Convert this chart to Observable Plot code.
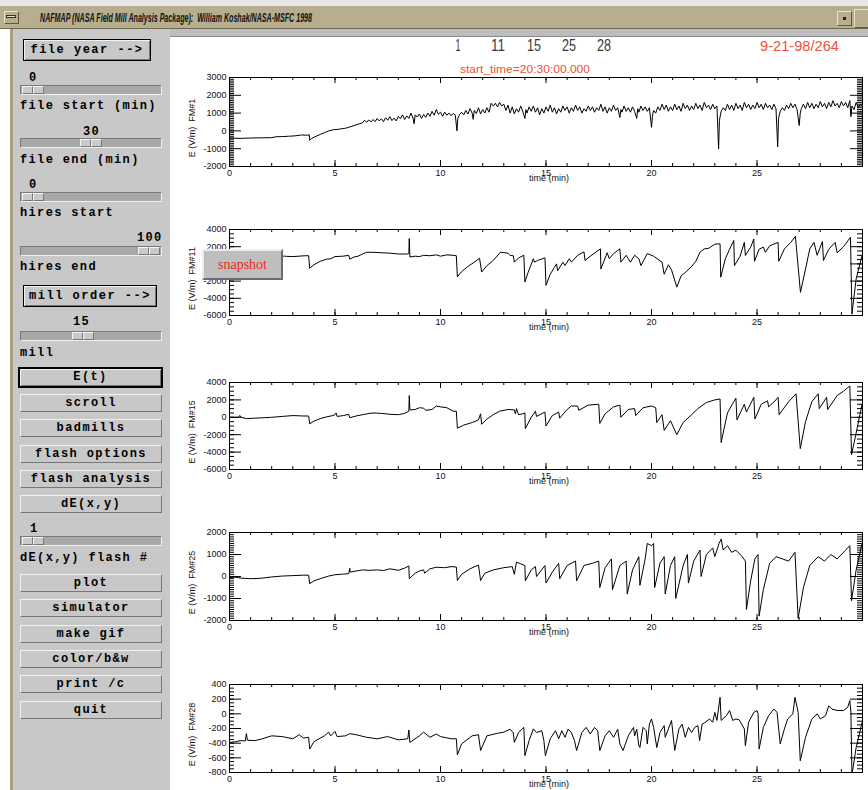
<!DOCTYPE html>
<html><head><meta charset="utf-8">
<script src="https://cdn.jsdelivr.net/npm/d3@7"></script>
<script src="https://cdn.jsdelivr.net/npm/@observablehq/plot@0.6"></script>
<style>
html,body{margin:0;padding:0;background:#fff;}
#root{position:relative;width:868px;height:790px;overflow:hidden;background:#fff;}
.abs{position:absolute;}
.mono{position:absolute;font-family:"Liberation Mono","DejaVu Sans Mono",monospace;font-weight:bold;font-size:12px;letter-spacing:1.35px;color:#000;white-space:pre;line-height:14px;}
.btn{position:absolute;left:20px;width:140px;height:16px;background:#c8c8c8;border-top:1px solid #f2f2f2;border-left:1px solid #f2f2f2;border-right:1px solid #767676;border-bottom:1px solid #767676;text-align:center;line-height:16px;font-family:"Liberation Mono","DejaVu Sans Mono",monospace;font-weight:bold;font-size:12px;letter-spacing:1.4px;white-space:pre;}
.slider{position:absolute;left:20px;width:140px;height:8px;background:#a8a8a8;border-top:1px solid #7a7a7a;border-left:1px solid #7a7a7a;border-bottom:1px solid #f0f0f0;border-right:1px solid #f0f0f0;}
.thumb{position:absolute;top:0;width:9px;height:6px;background:#cacaca;border-top:1px solid #f6f6f6;border-left:1px solid #f6f6f6;border-right:1px solid #777;border-bottom:1px solid #777;}
.bigbtn{position:absolute;background:#c8c8c8;border:1px solid #000;box-shadow:inset 1px 1px 0 #f2f2f2, inset -1px -1px 0 #777;text-align:center;font-family:"Liberation Mono","DejaVu Sans Mono",monospace;font-weight:bold;font-size:12px;letter-spacing:1.5px;white-space:pre;}
</style>
</head><body>
<div id="root">
  <!-- window chrome -->
  <div class="abs" style="left:0;top:0;width:868px;height:6px;background:#e6e6e6;border-bottom:1px solid #9a9a9a;"></div>
  <div class="abs" style="left:0;top:6px;width:868px;height:22px;background:#b6ae8f;border-bottom:1px solid #6e6850;"></div>
  <div class="abs" style="left:4px;top:11px;width:13px;height:11px;background:#b6ae8f;border-top:1px solid #e8e2cc;border-left:1px solid #e8e2cc;border-right:1px solid #5e5840;border-bottom:1px solid #5e5840;"></div>
  <div class="abs" style="left:6px;top:15px;width:10px;height:3px;background:#e8e2cc;border:1px solid #333;box-sizing:border-box;"></div>
  <div class="abs" style="left:837px;top:11px;width:13px;height:13px;background:#b6ae8f;border-top:1px solid #e8e2cc;border-left:1px solid #e8e2cc;border-right:1px solid #5e5840;border-bottom:1px solid #5e5840;"></div>
  <div class="abs" style="left:843px;top:17px;width:3px;height:3px;background:#222;"></div>
  <div class="abs" style="left:854px;top:9px;width:16px;height:17px;background:#b6ae8f;border-top:1px solid #e8e2cc;border-left:1px solid #e8e2cc;border-right:1px solid #5e5840;border-bottom:1px solid #5e5840;"></div>
  <div class="abs" style="left:13px;top:29px;width:855px;height:7px;background:#bdbdbd;border-bottom:1px solid #8a8a8a;"></div>
  <div class="abs" style="left:10px;top:29px;width:3px;height:761px;background:#a69f84;"></div>
  <div class="abs" style="left:13px;top:29px;width:157px;height:761px;background:#c8c8c8;"></div>

  <!-- left control panel -->
  <div class="bigbtn" style="left:23px;top:39px;width:126px;height:20px;line-height:20px;">file year --&gt;</div>
  <div class="mono" style="left:29px;top:71px;">0</div>
  <div class="slider" style="top:85px;"><div class="thumb" style="left:1px;"></div><div class="thumb" style="left:12px;"></div></div>
  <div class="mono" style="left:20px;top:99px;">file start (min)</div>
  <div class="mono" style="left:83px;top:125px;">30</div>
  <div class="slider" style="top:138px;"><div class="thumb" style="left:59px;"></div><div class="thumb" style="left:70px;"></div></div>
  <div class="mono" style="left:20px;top:153px;">file end (min)</div>
  <div class="mono" style="left:29px;top:178px;">0</div>
  <div class="slider" style="top:192px;"><div class="thumb" style="left:1px;"></div><div class="thumb" style="left:12px;"></div></div>
  <div class="mono" style="left:20px;top:206px;">hires start</div>
  <div class="mono" style="left:137px;top:231px;">100</div>
  <div class="slider" style="top:246px;"><div class="thumb" style="left:117px;"></div><div class="thumb" style="left:128px;"></div></div>
  <div class="mono" style="left:20px;top:260px;">hires end</div>
  <div class="bigbtn" style="left:23px;top:285px;width:132px;height:20px;line-height:20px;">mill order --&gt;</div>
  <div class="mono" style="left:73px;top:315px;">15</div>
  <div class="slider" style="top:331px;"><div class="thumb" style="left:51px;"></div><div class="thumb" style="left:62px;"></div></div>
  <div class="mono" style="left:20px;top:346px;">mill</div>
  <div class="abs" style="left:18px;top:367px;width:141px;height:17px;border:2px solid #000;background:#c8c8c8;box-shadow:inset 1px 1px 0 #f2f2f2, inset -1px -1px 0 #777;text-align:center;line-height:17px;font-family:'Liberation Mono',monospace;font-weight:bold;font-size:12px;letter-spacing:1.4px;">E(t)</div>
  <div class="btn" style="top:394px;">scroll</div>
  <div class="btn" style="top:419px;">badmills</div>
  <div class="btn" style="top:445px;">flash options</div>
  <div class="btn" style="top:470px;">flash analysis</div>
  <div class="btn" style="top:495px;">dE(x,y)</div>
  <div class="mono" style="left:30px;top:522px;">1</div>
  <div class="slider" style="top:536px;"><div class="thumb" style="left:1px;"></div><div class="thumb" style="left:12px;"></div></div>
  <div class="mono" style="left:20px;top:551px;">dE(x,y) flash #</div>
  <div class="btn" style="top:574px;">plot</div>
  <div class="btn" style="top:599px;">simulator</div>
  <div class="btn" style="top:625px;">make gif</div>
  <div class="btn" style="top:650px;">color/b&amp;w</div>
  <div class="btn" style="top:675px;">print /c</div>
  <div class="btn" style="top:701px;">quit</div>

  <!-- header texts -->
  <svg class="abs" style="left:0;top:0;" width="868" height="80">
    <text x="40" y="22" textLength="272" lengthAdjust="spacingAndGlyphs" font-family="Liberation Sans, Arial, sans-serif" font-style="italic" font-weight="bold" font-size="12" fill="#111" xml:space="preserve">NAFMAP (NASA Field Mill Analysis Package):  William Koshak/NASA-MSFC 1998</text>
    <g font-family="Liberation Sans, Arial, sans-serif" font-size="16" fill="#3a3a3a">
      <text x="458" y="51" text-anchor="middle" textLength="5" lengthAdjust="spacingAndGlyphs">1</text>
      <text x="498" y="51" text-anchor="middle" textLength="14" lengthAdjust="spacingAndGlyphs">11</text>
      <text x="534" y="51" text-anchor="middle" textLength="14" lengthAdjust="spacingAndGlyphs">15</text>
      <text x="569" y="51" text-anchor="middle" textLength="14" lengthAdjust="spacingAndGlyphs">25</text>
      <text x="604" y="51" text-anchor="middle" textLength="14" lengthAdjust="spacingAndGlyphs">28</text>
    </g>
    <text x="760" y="51" textLength="79" lengthAdjust="spacingAndGlyphs" font-family="Liberation Sans, Arial, sans-serif" font-size="15" fill="#f0503c">9-21-98/264</text>
    <text x="460" y="73" textLength="130" lengthAdjust="spacingAndGlyphs" font-family="Liberation Sans, Arial, sans-serif" font-size="10.5" fill="#f0503c">start_time=20:30:00.000</text>
  </svg>
  <div id="charts"></div>
  <div class="abs" style="left:202px;top:249px;width:77px;height:27px;background:#bebebe;border-top:2px solid #ececec;border-left:2px solid #ececec;border-right:2px solid #6c6c6c;border-bottom:2px solid #6c6c6c;text-align:center;line-height:27px;font-family:'Liberation Serif','DejaVu Serif',serif;font-size:14px;color:#f02a20;z-index:5;">snapshot</div>
</div>
<script>
// ---------- data: [time (min), E (V/m)] ----------
const fm1 = [[0,-400],[0.5,-420],[1,-400],[1.5,-390],[2,-380],[2.2,-330],[2.5,-320],[2.8,-300],[3.1,-280],[3.4,-230],[3.7,-240],[3.78,-220],[3.8,-520],[3.9,-420],[4.1,-300],[4.3,-200],[4.5,-100],[4.7,0],[4.9,60],[5.1,80],[5.3,120],[5.5,150],[5.7,220],[5.9,300],[6.1,380],[6.3,450],
[6.4,600],[6.5,480],[6.6,620],[6.7,500],[6.8,640],[6.9,520],[7.0,700],[7.1,560],[7.2,680],[7.3,520],[7.4,740],[7.5,600],[7.6,800],[7.7,580],[7.8,720],[7.9,560],[8.0,820],[8.1,680],[8.2,900],[8.3,640],[8.4,840],[8.5,700],[8.6,1000],[8.7,720],[8.75,400],[8.8,900],[8.9,780],[9.0,950],[9.1,700],[9.2,920],[9.3,760],[9.4,1000],[9.5,820],[9.6,1100],[9.7,880],[9.8,1200],[9.9,940],[10.0,1050],[10.1,820],[10.2,1050],[10.3,880],[10.4,1000],[10.5,850],[10.6,980],[10.7,900],[10.78,0],[10.82,700],[10.9,920],
[11.0,1050],[11.1,900],[11.2,1150],[11.3,950],[11.4,1250],[11.5,1000],[11.55,650],[11.6,1150],[11.7,980],[11.8,1300],[11.9,950],[12.0,1200],[12.1,1000],[12.2,1300],[12.3,1050],[12.4,1550],[12.5,1400],[12.6,1550],[12.7,1350],[12.8,1600],[12.9,1400],[13.0,1500],[13.1,1150],[13.2,1450],[13.3,1000],[13.4,1350],[13.5,950],[13.6,1250],[13.7,1050],[13.8,1400],[13.9,1100],[14.0,700],[14.05,1200],[14.1,1000],[14.2,1350],[14.3,1100],[14.4,1400],[14.5,1050],[14.6,1300],[14.7,900],[14.8,1250],[14.9,1000],
[15.0,1350],[15.1,1100],[15.2,1450],[15.3,1050],[15.4,1300],[15.5,950],[15.6,1250],[15.7,1050],[15.8,1400],[15.9,1150],[16.0,1350],[16.1,1000],[16.2,1300],[16.3,1100],[16.4,1450],[16.5,1150],[16.6,1350],[16.7,1000],[16.8,1250],[16.9,1100],[17.0,1400],[17.1,1150],[17.2,1350],[17.3,1050],[17.4,1300],[17.5,1150],[17.6,1500],[17.7,1100],[17.8,1350],[17.9,1000],[18.0,1300],[18.1,1100],[18.2,1450],[18.3,1150],[18.4,1300],[18.5,750],[18.55,1200],[18.6,1050],[18.7,1400],[18.8,1100],[18.9,1300],[19.0,1050],[19.1,1350],[19.2,1100],[19.3,700],[19.35,1250],[19.4,1050],[19.5,1400],[19.6,1150],[19.7,1350],[19.8,1100],[19.9,1300],
[20.0,200],[20.05,900],[20.1,1150],[20.2,1000],[20.3,1350],[20.4,1150],[20.5,1500],[20.6,1200],[20.7,1450],[20.8,1100],[20.9,1350],[21.0,1150],[21.1,1500],[21.2,1200],[21.3,1400],[21.4,1100],[21.5,1550],[21.6,1250],[21.7,1450],[21.8,1150],[21.9,1400],[22.0,1200],[22.1,1550],[22.2,1250],[22.3,1450],[22.4,1150],[22.5,1600],[22.6,1300],[22.7,1450],[22.8,1200],[22.9,1500],[23.0,1250],[23.1,1400],[23.18,-1000],[23.22,600],[23.3,1100],[23.4,1300],[23.5,1150],[23.6,1500],[23.7,1200],[23.8,1450],[23.9,1150],[24.0,1550],[24.1,1250],[24.2,1450],[24.3,1150],[24.4,1600],[24.5,1300],[24.6,1500],[24.7,1200],[24.8,1450],[24.9,1250],
[25.0,1600],[25.1,1300],[25.2,1500],[25.3,1200],[25.4,1550],[25.5,1300],[25.6,1450],[25.7,1200],[25.8,1500],[25.9,1250],[25.98,-900],[26.02,700],[26.1,1100],[26.2,1300],[26.3,1150],[26.4,1450],[26.5,1250],[26.6,1550],[26.7,1300],[26.8,1500],[26.9,1200],[27.0,300],[27.05,1000],[27.1,1250],[27.2,1500],[27.3,1250],[27.4,1600],[27.5,1300],[27.6,1550],[27.7,1250],[27.8,1500],[27.9,1300],[28.0,1650],[28.1,1350],[28.2,1550],[28.3,1250],[28.4,1600],[28.5,1350],[28.6,1700],[28.7,1400],[28.8,1550],[28.9,1300],[29.0,1650],[29.1,1400],[29.2,1600],[29.3,1300],[29.4,1700],[29.45,800],[29.5,1400],[29.6,1200],[29.7,1600],[29.8,1300],[29.9,1500],[30,1400]];

const fm11 = [[0,800],[1,850],[2,900],[2.6,900],[2.7,880],[3.0,850],[3.3,900],[3.6,950],[3.75,950],[3.8,-500],[4.0,-100],[4.3,300],[4.6,550],[4.8,600],[5.0,850],[5.4,900],[5.65,1000],[5.7,550],[5.9,800],[6.1,900],[6.3,1150],[6.5,1350],[6.8,1350],[7.2,1300],[7.6,1250],[8.0,1150],[8.4,1150],[8.5,1200],[8.52,2950],[8.55,800],[8.8,900],[9.0,850],[9.2,1000],[9.5,950],[9.8,1050],[10.0,900],[10.3,1050],[10.6,1000],[10.75,950],[10.8,-1500],[11.0,-900],[11.3,-300],[11.6,200],[11.85,650],[11.95,-950],[12.2,-200],[12.5,400],[12.84,1360],[13.2,1250],[13.3,980],[13.45,950],[13.5,200],[13.7,700],[13.95,1000],[14.0,-2100],[14.15,-1000],[14.4,600],[14.45,200],[14.6,400],[14.95,700],[15.0,-2500],[15.2,-1200],[15.4,-400],[15.5,0],[15.55,-800],[15.8,200],[15.9,-200],[16.1,600],[16.2,200],[16.5,1000],[16.8,1400],[16.85,400],[17.1,900],[17.58,1750],[17.6,-600],[17.9,1300],[18.0,600],[18.2,1200],[18.5,1750],[18.55,200],[18.8,1000],[19.0,200],[19.2,1000],[19.4,600],[19.5,-200],[19.8,1200],[20.1,900],[20.5,200],[20.6,-1200],[20.8,-100],[20.95,-700],[21.2,-2700],[21.4,-1400],[21.6,-1000],[21.9,-300],[22.1,300],[22.3,1360],[22.5,1750],[22.7,1800],[23.0,2300],[23.25,2330],[23.28,-1550],[23.5,600],[23.7,1700],[23.9,2720],[23.93,-200],[24.2,900],[24.4,2500],[24.45,980],[24.7,1950],[24.85,2900],[24.88,300],[25.1,1700],[25.3,1950],[25.4,1350],[25.6,2100],[25.8,2300],[26.0,2500],[26.03,300],[26.3,1750],[26.6,2500],[26.82,3200],[27.06,-3300],[27.3,-600],[27.5,1750],[27.7,2500],[27.85,1000],[28.1,2600],[28.15,400],[28.4,1700],[28.7,2500],[28.8,1300],[29.1,2000],[29.43,3100],[29.5,-5850],[29.7,-1740],[29.98,1000]];

const fm15 = [[0,0],[0.4,0],[0.5,200],[0.55,0],[0.8,-150],[1.2,-100],[2,0],[2.5,100],[3,200],[3.5,150],[3.75,150],[3.8,-750],[4.0,-450],[4.3,-150],[4.6,50],[4.9,200],[5.0,300],[5.05,500],[5.1,100],[5.4,200],[5.65,350],[5.7,-50],[6.0,150],[6.4,350],[6.8,500],[7.2,450],[7.6,350],[8.0,300],[8.3,450],[8.5,700],[8.52,2500],[8.55,850],[8.8,900],[9.0,1100],[9.2,1050],[9.3,800],[9.6,900],[9.8,1300],[10.0,1200],[10.3,1100],[10.6,700],[10.75,700],[10.8,-1250],[11.1,-900],[11.5,-600],[11.8,-300],[11.9,400],[11.95,-800],[12.2,-200],[12.5,300],[12.8,700],[13.2,900],[13.5,850],[13.55,400],[13.6,1000],[13.7,300],[13.9,400],[14.0,500],[14.02,-1300],[14.3,0],[14.5,700],[14.55,100],[14.95,600],[15.0,-1000],[15.3,200],[15.6,600],[15.65,-100],[16.0,900],[16.2,1300],[16.5,1300],[16.55,800],[17.0,1400],[17.5,1500],[17.55,-700],[17.8,400],[18.2,1200],[18.5,1400],[18.55,0],[18.9,900],[19.2,1000],[19.25,200],[19.6,1100],[20.0,1300],[20.2,1100],[20.25,-600],[20.5,300],[20.6,-1500],[20.9,-400],[21.2,-2000],[21.5,-600],[21.9,300],[22.2,1000],[22.6,1700],[23.0,2000],[23.25,2100],[23.3,-2900],[23.6,500],[23.9,1800],[24.0,2200],[24.05,-300],[24.4,1500],[24.5,600],[24.85,2300],[24.9,-200],[25.2,1500],[25.5,1900],[25.55,1200],[25.9,2000],[26.0,2300],[26.05,300],[26.5,1800],[26.85,2700],[27.05,-3600],[27.3,-500],[27.6,1800],[27.9,2700],[27.95,1000],[28.3,2300],[28.35,900],[28.8,2500],[29.1,3000],[29.4,3600],[29.48,-4300],[29.7,-1800],[29.98,1500]];

const fm25 = [[0,-50],[0.3,-30],[0.5,-70],[1,-100],[1.5,-80],[2,-20],[2.5,20],[3,40],[3.5,60],[3.75,60],[3.8,-330],[4.0,-200],[4.3,-100],[4.7,20],[5.0,80],[5.4,110],[5.65,130],[5.7,370],[5.72,200],[6.0,250],[6.3,300],[6.6,280],[7.0,300],[7.3,270],[7.6,350],[8.0,280],[8.3,380],[8.5,480],[8.52,-100],[8.8,150],[9.0,250],[9.2,300],[9.25,150],[9.5,350],[9.8,420],[10.2,400],[10.5,450],[10.75,430],[10.8,-180],[11.0,100],[11.4,350],[11.8,520],[11.9,-180],[12.1,150],[12.5,300],[13.0,400],[13.4,450],[13.5,100],[13.6,650],[13.8,580],[14.0,500],[14.02,-200],[14.3,300],[14.5,450],[14.55,0],[14.95,500],[15.0,-300],[15.3,200],[15.6,600],[15.65,-100],[16.0,500],[16.4,700],[16.45,-200],[16.8,500],[17.2,600],[17.5,700],[17.55,-500],[17.8,400],[18.1,800],[18.15,-600],[18.5,500],[18.8,700],[18.85,-800],[19.1,300],[19.4,900],[19.45,-400],[19.7,800],[19.8,1500],[20.0,1400],[20.1,1500],[20.15,-500],[20.4,600],[20.6,900],[20.65,-800],[20.9,500],[21.1,900],[21.15,-1000],[21.5,500],[21.7,1000],[21.75,-300],[22.0,700],[22.3,1200],[22.35,0],[22.6,1000],[22.9,1300],[23.0,900],[23.2,1500],[23.3,1700],[23.4,1200],[23.6,1400],[23.8,1100],[24.0,1200],[24.3,900],[24.45,700],[24.5,-1500],[24.7,-200],[24.9,800],[25.05,1000],[25.1,-1800],[25.3,-600],[25.6,600],[25.9,900],[26.2,800],[26.5,700],[26.8,1100],[26.95,-1900],[27.2,-500],[27.5,500],[27.9,900],[28.2,700],[28.5,1000],[28.8,800],[29.2,1200],[29.4,1400],[29.48,-1100],[29.7,300],[29.98,1500]];

const fm28 = [[0,-390],[0.3,-380],[0.5,-365],[0.75,-370],[0.8,-270],[0.85,-360],[1.2,-365],[1.5,-345],[2,-300],[2.5,-310],[3,-340],[3.3,-285],[3.5,-330],[3.75,-320],[3.8,-480],[4.0,-380],[4.5,-300],[4.7,-250],[4.8,-300],[5.0,-240],[5.1,-310],[5.5,-300],[5.7,-270],[6.0,-285],[6.5,-320],[7.0,-340],[7.5,-310],[8.0,-355],[8.45,-340],[8.5,-220],[8.55,-390],[9.0,-300],[9.2,-250],[9.5,-320],[9.8,-275],[10.0,-310],[10.5,-340],[10.75,-340],[10.8,-560],[11.0,-410],[11.5,-300],[11.8,-285],[11.9,-500],[12.2,-300],[12.7,-265],[13.0,-250],[13.3,-210],[13.45,-260],[13.5,-390],[13.7,-255],[13.95,-185],[14.0,-570],[14.2,-365],[14.4,-205],[14.55,-255],[14.8,-230],[14.9,-365],[14.97,-570],[15.2,-340],[15.45,-230],[15.6,-340],[15.75,-230],[15.9,-320],[16.05,-210],[16.2,-255],[16.35,-365],[16.45,-500],[16.7,-255],[16.9,-185],[17.1,-275],[17.3,-185],[17.45,-230],[17.55,-500],[17.8,-300],[18.0,-230],[18.2,-320],[18.4,-210],[18.5,-410],[18.65,-500],[18.9,-300],[19.15,-185],[19.2,-300],[19.3,-210],[19.4,-435],[19.45,-460],[19.6,-185],[19.75,-230],[19.8,-410],[19.9,-140],[20.0,-70],[20.1,-185],[20.15,-275],[20.25,-460],[20.4,-255],[20.6,-160],[20.65,-320],[20.8,-205],[20.95,-90],[21.1,-500],[21.3,-205],[21.45,-140],[21.6,-320],[21.75,-185],[21.9,-255],[22.05,-185],[22.2,-160],[22.28,-365],[22.4,-140],[22.55,-115],[22.75,-70],[22.9,-115],[23.0,20],[23.1,-90],[23.25,225],[23.3,-90],[23.55,-25],[23.7,45],[23.85,-90],[24.0,-70],[24.15,-80],[24.4,-205],[24.45,-435],[24.6,-115],[24.85,20],[25.0,45],[25.05,0],[25.1,-480],[25.3,-185],[25.55,-25],[25.8,65],[25.95,20],[26.1,-410],[26.3,-205],[26.45,-70],[26.7,0],[26.8,225],[26.95,20],[27.05,-640],[27.3,-320],[27.6,-70],[27.85,0],[28.0,-70],[28.25,-25],[28.4,110],[28.55,65],[28.8,45],[29.1,45],[29.3,90],[29.4,180],[29.45,20],[29.5,-830],[29.7,-460],[29.98,-115]];

// axis tick labels
const xLabels = [0, 5, 10, 15, 20, 25];
const fm1Ticks = [-2000, -1000, 0, 1000, 2000, 3000];
const fm11Ticks = [-6000, -4000, -2000, 0, 2000, 4000];
const fm15Ticks = [-6000, -4000, -2000, 0, 2000, 4000];
const fm25Ticks = [-2000, -1000, 0, 1000, 2000];
const fm28Ticks = [-800, -600, -400, -200, 0, 200, 400];

const panels = [
  {data: fm1, name: "FM#1", ticks: fm1Ticks, minorStep: 100, top: 77, frameH: 89},
  {data: fm11, name: "FM#11", ticks: fm11Ticks, minorStep: 500, top: 229, frameH: 86},
  {data: fm15, name: "FM#15", ticks: fm15Ticks, minorStep: 500, top: 382, frameH: 87},
  {data: fm25, name: "FM#25", ticks: fm25Ticks, minorStep: 100, top: 532, frameH: 88},
  {data: fm28, name: "FM#28", ticks: fm28Ticks, minorStep: 50, top: 684, frameH: 88}
];

const W = 698, mL = 59, mR = 6, mT = 6, mB = 24;
const plotW = W - mL - mR;
const xMinor = d3.range(0, 31, 1);
const host = document.getElementById("charts");

for (const p of panels) {
  const lo = p.ticks[0], hi = p.ticks[p.ticks.length - 1];
  const yMinor = d3.range(lo, hi + 1e-9, p.minorStep);
  const chart = Plot.plot({
    width: W, height: mT + p.frameH + mB,
    marginLeft: mL, marginRight: mR, marginTop: mT, marginBottom: mB,
    x: {domain: [0, 30]},
    y: {domain: [lo, hi]},
    style: {fontFamily: "Liberation Sans, Arial, sans-serif", fontSize: "9px", color: "#111", background: "transparent", overflow: "visible"},
    marks: [
      Plot.tickY(yMinor, {stroke: "#000", insetRight: plotW - 5}),
      Plot.tickY(p.ticks, {stroke: "#000", insetRight: plotW - 12}),
      Plot.tickY(yMinor, {stroke: "#000", insetLeft: plotW - 5}),
      Plot.tickY(p.ticks, {stroke: "#000", insetLeft: plotW - 12}),
      Plot.tickX(xMinor, {stroke: "#000", insetTop: p.frameH - 3}),
      Plot.tickX(xLabels, {stroke: "#000", insetTop: p.frameH - 6}),
      Plot.tickX(xMinor, {stroke: "#000", insetBottom: p.frameH - 3}),
      Plot.tickX(xLabels, {stroke: "#000", insetBottom: p.frameH - 6}),
      Plot.frame({stroke: "#000"}),
      Plot.axisY({ticks: p.ticks, tickSize: 0, tickPadding: 3, label: null, tickFormat: d => String(d)}),
      Plot.axisX({ticks: xLabels, tickSize: 0, tickPadding: 3, label: null, tickFormat: d => String(d)}),
      Plot.text(["E (V/m)\u00a0\u00a0" + p.name], {frameAnchor: "left", textAnchor: "middle", rotate: -90, dx: -37, dy: 6, fontSize: 9}),
      Plot.text(["time (min)"], {frameAnchor: "bottom", textAnchor: "middle", dy: 14, dx: 3}),
      Plot.line(p.data, {x: d => d[0], y: d => d[1], stroke: "#000", strokeWidth: 1, clip: true})
    ]
  });
  const div = document.createElement("div");
  div.className = "abs";
  div.style.left = "170px";
  div.style.top = (p.top - mT) + "px";
  div.appendChild(chart);
  host.appendChild(div);
}
</script>
</body></html>
